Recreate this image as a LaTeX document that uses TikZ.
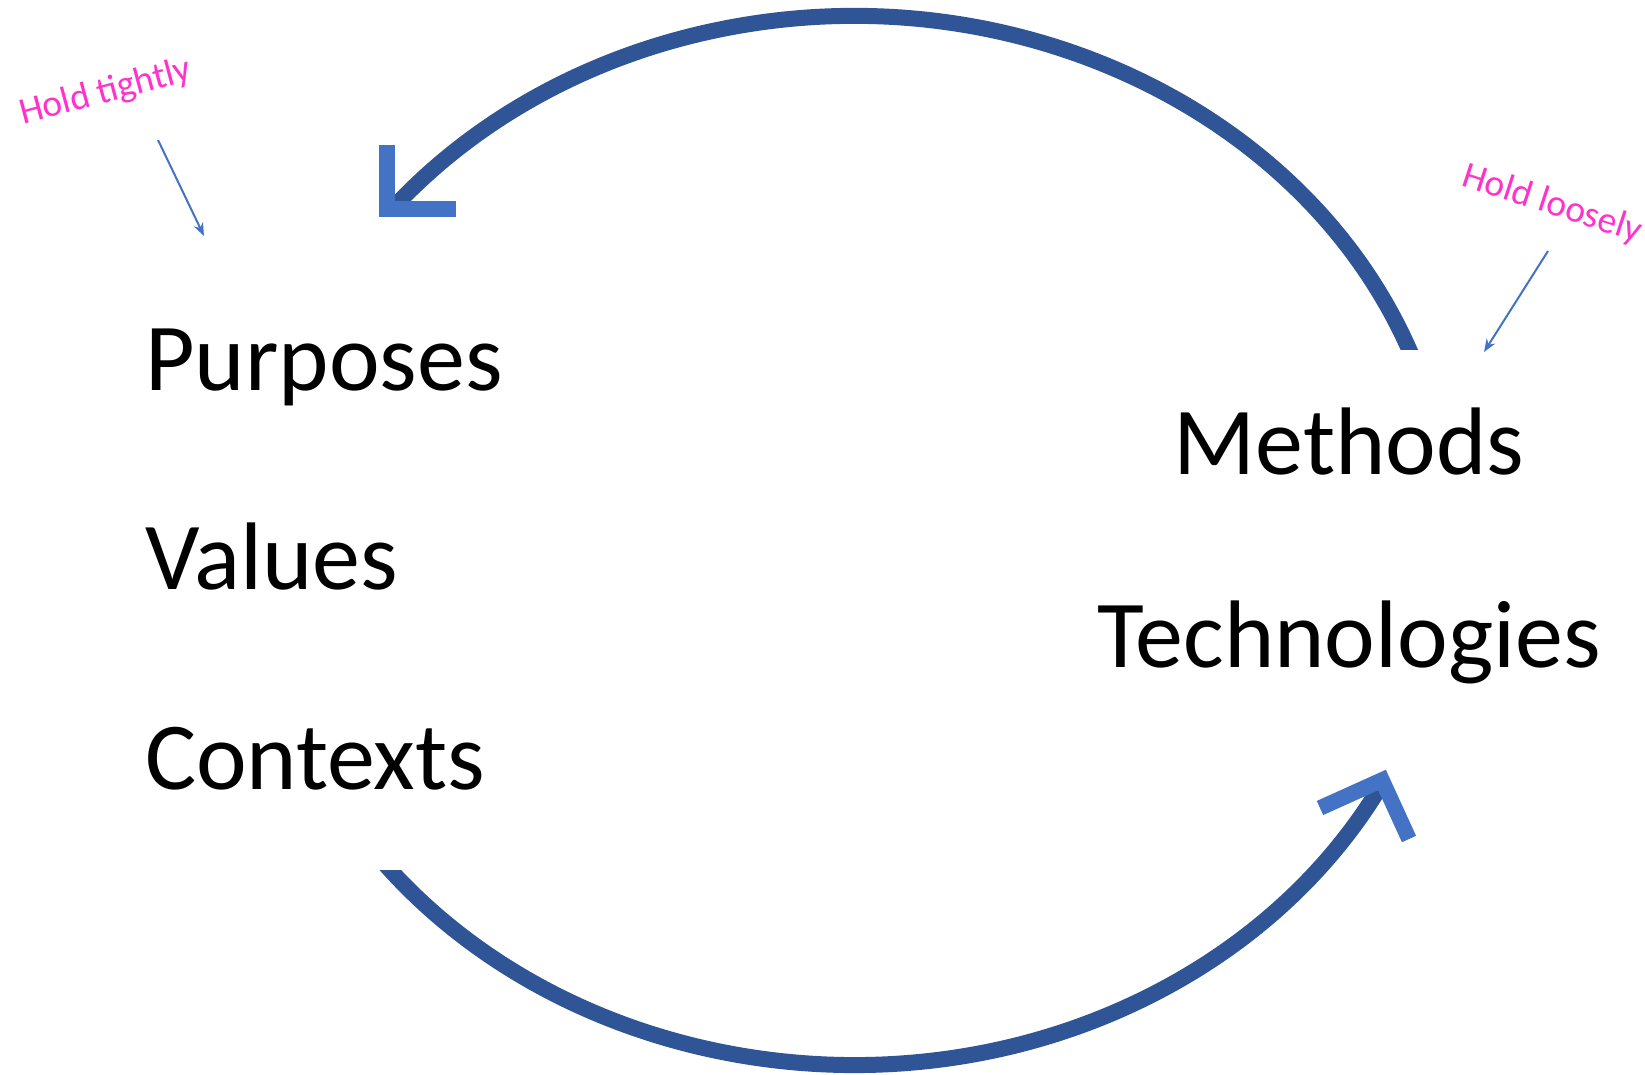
\documentclass[tikz,border=0pt]{standalone}
\usepackage{fontspec}
\setmainfont{Carlito}
\usetikzlibrary{arrows.meta}
\definecolor{arcblue}{HTML}{2F5597}
\definecolor{tipblue}{HTML}{4472C4}
\definecolor{notepink}{HTML}{FF33CC}
\begin{document}
\begin{tikzpicture}[x=1pt,y=1pt,
  bigword/.style={font=\fontsize{96}{110}\selectfont, inner sep=0pt, text=black},
  note/.style={font=\fontsize{37.5}{44}\selectfont, inner sep=0pt, text=notepink},
  cyclearc/.style={draw=arcblue, line width=16pt, line cap=butt},
  openhead/.style={draw=tipblue, line width=15.5pt, line cap=butt, line join=miter},
  pointer/.style={draw=tipblue, line width=2pt, -{Stealth[length=13pt,width=10pt]}}]
\fill[white] (0,0) rectangle (1645,1074);
\useasboundingbox (0,0) rectangle (1645,1074);

% ellipse centre of the cycle
\coordinate (c) at (854,533.5);

% upper arc: from the right side back over the top to the left
\begin{scope}
  \clip (0,1074) -- (1645,1074) -- (1645,724) -- (854,724) -- (854,0)
        -- (0,0) -- cycle;
  \draw[cyclearc] (c) ++(15:596pt and 524.5pt)
    arc[start angle=15, end angle=140.5, x radius=596pt, y radius=524.5pt];
\end{scope}
% lower arc: from the left side under the bottom to the right
\begin{scope}
  \clip (0,0) -- (1645,0) -- (1645,1074) -- (854,1074) -- (854,204)
        -- (0,204) -- cycle;
  \draw[cyclearc] (c) ++(212:596pt and 524.5pt)
    arc[start angle=212, end angle=331.6, x radius=596pt, y radius=524.5pt];
\end{scope}

% open arrow heads
\coordinate (h1a) at (387,929);
\coordinate (h1b) at (387,865);
\coordinate (h1c) at (456,865);
\draw[openhead] (h1a) -- (h1b) -- (h1c);
\coordinate (h2a) at (1320,266);
\coordinate (h2b) at (1382,294);
\coordinate (h2c) at (1409,235);
\draw[openhead] (h2a) -- (h2b) -- (h2c);

% left column
\node[bigword, anchor=base west] (purposes) at (145,683) {Purposes};
\node[bigword, anchor=base west] (values) at (145,484) {Values};
\node[bigword, anchor=base west] (contexts) at (145,285) {Contexts};

% right column
\node[bigword, anchor=base] (methods) at (1349,599) {Methods};
\node[bigword, anchor=base] (tech) at (1349,406) {Technologies};

% notes with pointers
\node[note, anchor=base west, rotate=15] (tight) at (23,949) {Hold tightly};
\node[note, anchor=base west, rotate=-18] (loose) at (1460,889) {Hold loosely};
\coordinate (p1s) at (158,934);
\coordinate (p1e) at (204,838);
\draw[pointer] (p1s) -- (p1e);
\coordinate (p2s) at (1548,823);
\coordinate (p2e) at (1484,722);
\draw[pointer] (p2s) -- (p2e);
\end{tikzpicture}
\end{document}
